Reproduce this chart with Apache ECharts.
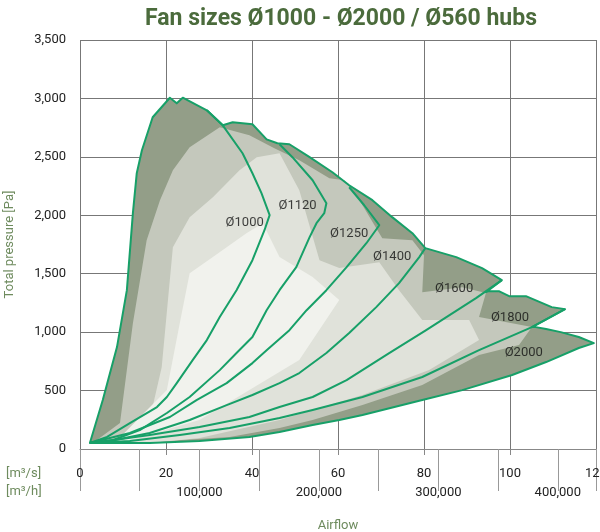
<!DOCTYPE html>
<html>
<head>
<meta charset="utf-8">
<script src="https://cdn.jsdelivr.net/npm/echarts@6/dist/echarts.min.js"></script>
<style>html,body{margin:0;padding:0;background:#fff}#main{width:600px;height:532px}</style>
</head>
<body>
<div id="main"></div>
<script>
// airflow [m3/s], total pressure [Pa]
var envelope = [[2.3,51],[5.3,419],[8.6,872],[10.9,1359],[12.3,2018],[13.2,2360],[14.4,2556],[16.9,2839],[20.9,3006],[22.5,2958],[23.9,3006],
  [29.5,2898],[33.2,2770],[35.5,2796],[40.1,2779],[43.4,2650],[45.9,2616],[48.7,2608],[53.4,2497],[58.7,2368],[62.6,2257],[68,2129],
  [72.6,1984],[77.3,1847],[80.3,1719],[87.5,1642],[93.5,1548],[98.1,1445],[94.4,1342],[95.1,1351],[97.4,1351],[99.8,1308],[103.7,1308],
  [109.7,1214],[112.8,1197],[105.1,1043],[106,1043],[108.4,1026],[111.8,1000],[116,958],[119.5,906],[116,864],[108.4,744],[100.5,633],
  [88.9,504],[79.6,419],[65.7,291],[60.3,248],[54.1,205],[46.4,145],[39.4,103],[27.8,68],[16.2,51]];
var bandMid = [[3,51],[9.3,222],[12.3,1077],[15.5,1787],[18.6,2129],[21.6,2385],[25.5,2582],[32.5,2753],[39.4,2685],[45.2,2574],[51,2471],
  [58,2317],[61.5,2300],[65,2129],[70.3,1804],[77.3,1787],[80,1659],[79.6,1342],[88.9,1385],[94.4,1334],[92.8,1129],[105.1,1043],
  [102.1,889],[92.8,804],[79.6,547],[65.7,376],[54.1,248],[46.4,180],[34.8,103],[16.2,60]];
var bandLight = [[5,51],[13.9,162],[16.5,300],[19,700],[21.6,1727],[25.5,1984],[30.9,2155],[37.1,2385],[41.1,2497],[46.4,2531],[51,2214],
  [55.7,1616],[60.3,1548],[69.6,1599],[74.2,1359],[79.6,1103],[90.5,1103],[92.8,932],[81.2,675],[65.7,462],[54.1,333],[46.4,248],[27.8,94],[16.2,51]];
var bandLightest = [[8,51],[20.2,504],[23.2,1077],[25.5,1505],[30.9,1642],[38.7,1847],[42.5,1932],[46.4,1642],[54.1,1471],[60.3,1274],
  [51,761],[39.4,504],[27.8,248],[11.6,77]];
var line1000 = [[29.5,2898],[33.2,2770],[37.8,2531],[40.1,2360],[42.2,2189],[44.1,2001],[42.9,1872],[40.1,1616],[36.4,1359],[32.5,1129],
  [29.5,932],[26.2,761],[22.5,564],[20.2,445],[17.9,359],[11.6,222],[6.3,103],[2.3,51]];
var line1120 = [[46.4,2608],[49.4,2497],[54.1,2300],[57.3,2103],[56.8,2018],[55,1932],[53.4,1813],[50.3,1556],[46.4,1359],[43.4,1188],
  [40.1,958],[36.4,821],[32.5,675],[25.5,445],[20.2,308],[13.9,162],[7.7,77],[2.3,51]];
var line1250 = [[62.6,2240],[66.1,2086],[69.6,1915],[66.6,1761],[62,1556],[57.3,1359],[52.7,1188],[48.7,1017],[43.4,846],[40.1,735],
  [34.1,564],[27.1,419],[20.9,274],[11.6,137],[2.3,51]];
var line1400 = [[80.3,1719],[78.9,1642],[74.2,1419],[68.9,1214],[62.6,992],[57.3,821],[51,650],[46.4,564],[40.1,462],[34.1,376],
  [25.5,248],[16.2,137],[7,68],[2.3,51]];
var line1600 = [[98.1,1445],[92.1,1291],[80.5,1017],[71.9,821],[62,590],[54.1,445],[46.4,359],[39.4,274],[27.8,188],[16.2,120],[4.6,60],[2.3,51]];
var line1800 = [[112.8,1197],[105.1,1043],[92.8,846],[79.6,616],[65.7,445],[54.1,333],[46.4,265],[34.8,180],[23.2,120],[11.6,68],[2.3,51]];
var sizeLabels = [['Ø1000',38.3,1932],['Ø1120',50.6,2078],['Ø1250',62.6,1838],['Ø1400',72.6,1642],['Ø1600',87,1368],['Ø1800',100,1120],['Ø2000',103.2,821]];

var green = '#17a068';
var font = "Roboto, sans-serif";

function shape(pts, fill, stroke, z){
  return {
    type: 'custom', coordinateSystem: 'cartesian2d', silent: true, z: z, data: [[0,0]],
    renderItem: function(params, api){
      var p = pts.map(function(d){ return api.coord(d); });
      return {
        type: fill ? 'polygon' : 'polyline',
        shape: {points: p},
        style: {fill: fill || 'none', stroke: stroke || 'none', lineWidth: 2, lineJoin: 'round'}
      };
    }
  };
}
function fmt(v){ return String(v).replace(/\B(?=(\d{3})+(?!\d))/g, ','); }

var myChart = echarts.init(document.getElementById('main'));
var option = {
  animation: false,
  title: {
    text: 'Fan sizes Ø1000 - Ø2000 / Ø560 hubs', left: 336, top: 3, textAlign: 'center',
    textStyle: {color: '#4b6b3c', fontSize: 23, fontWeight: 'bold', fontFamily: font}
  },
  grid: {left: 80, right: 4, top: 40, bottom: 83, outerBoundsMode: 'none', containLabel: false},
  xAxis: [{
    type: 'value', min: 0, max: 120, interval: 20,
    axisLine: {lineStyle: {color: '#888'}},
    axisTick: {show: true, length: 6, lineStyle: {color: '#888'}},
    axisLabel: {margin: 18, color: '#222', fontSize: 13, fontFamily: font},
    splitLine: {lineStyle: {color: '#777', width: 1}}
  }, {
    type: 'value', min: 0, max: 432000, interval: 50000, position: 'bottom',
    axisLine: {show: false},
    axisTick: {show: true, length: 42, lineStyle: {color: '#999'}},
    axisLabel: {margin: 37, color: '#222', fontSize: 13, fontFamily: font,
      formatter: function(v){ return (v > 0 && v % 100000 === 0) ? fmt(v) : ''; }},
    splitLine: {show: false},
    name: 'Airflow', nameLocation: 'middle', nameGap: 70,
    nameTextStyle: {color: '#6e8b5e', fontSize: 13, fontFamily: font}
  }],
  yAxis: {
    type: 'value', min: 0, max: 3500, interval: 500,
    axisLine: {show: false}, axisTick: {show: false},
    axisLabel: {color: '#222', fontSize: 13, fontFamily: font, margin: 14, formatter: fmt},
    splitLine: {lineStyle: {color: '#777', width: 1}},
    name: 'Total pressure [Pa]', nameLocation: 'middle', nameGap: 64,
    nameTextStyle: {color: '#6e8b5e', fontSize: 13, fontFamily: font}
  },
  graphic: [
    {type: 'text', left: 6, top: 467, style: {text: '[m³/s]', fill: '#6e8b5e', fontSize: 13, fontFamily: font}},
    {type: 'text', left: 6, top: 485, style: {text: '[m³/h]', fill: '#6e8b5e', fontSize: 13, fontFamily: font}}
  ],
  series: [
    shape(envelope, '#939e88', null, 2),
    shape(bandMid, '#c4c8bc', null, 3),
    shape(bandLight, '#e0e2da', null, 4),
    shape(bandLightest, '#f1f2ed', null, 5),
    shape(envelope, 'none', green, 6),
    shape(line1000, null, green, 6),
    shape(line1120, null, green, 6),
    shape(line1250, null, green, 6),
    shape(line1400, null, green, 6),
    shape(line1600, null, green, 6),
    shape(line1800, null, green, 6),
    {
      type: 'scatter', symbolSize: 0, z: 7, silent: true,
      data: sizeLabels.map(function(d){ return {name: d[0], value: [d[1], d[2]]}; }),
      label: {show: true, position: 'inside', formatter: '{b}', color: '#111', fontSize: 13, fontFamily: font}
    }
  ]
};
myChart.setOption(option);
</script>
</body>
</html>
